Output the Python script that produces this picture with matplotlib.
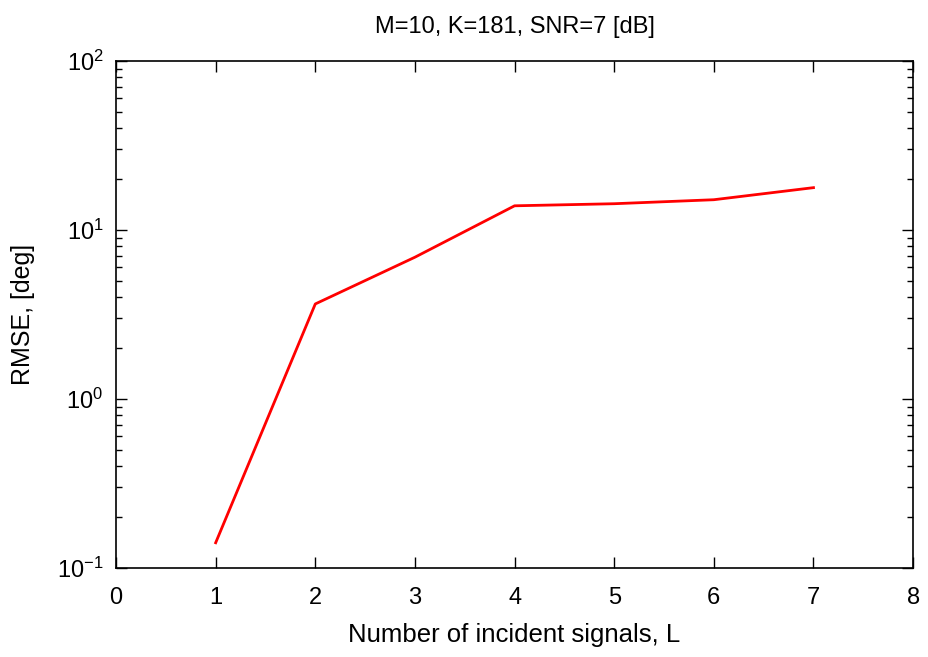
import matplotlib
matplotlib.use("Agg")
import matplotlib.pyplot as plt
from matplotlib.ticker import LogLocator, FixedLocator, FuncFormatter
import numpy as np

plt.rcParams['font.family'] = ['Liberation Sans', 'DejaVu Sans']

# Dados
L = [1, 2, 3, 4, 5, 6, 7]
rmse = [0.141, 3.65, 6.9, 13.9, 14.3, 15.1, 17.8]

fig = plt.figure(figsize=(9.29, 6.57), dpi=100)
ax = fig.add_axes([0.1249, 0.1355, 0.858, 0.7717])

ax.plot(L, rmse, color='red', linewidth=2)

ax.set_yscale('log')
ax.set_xlim(0, 8)
ax.set_ylim(0.1, 100)
ax.xaxis.set_major_locator(FixedLocator(range(0, 9)))
ax.yaxis.set_major_locator(LogLocator(base=10, numticks=10))
ax.yaxis.set_minor_locator(LogLocator(base=10, subs=range(2, 10), numticks=10))
ax.yaxis.set_major_formatter(FuncFormatter(
    lambda v, p: r'$\mathregular{10^{%d}}$' % int(round(np.log10(v)))))

ax.tick_params(which='both', direction='in', top=True, right=True, labelsize=17, width=1)
ax.tick_params(which='major', length=8)
ax.tick_params(axis='x', which='major', pad=14)
ax.tick_params(axis='y', which='major', pad=9)
ax.tick_params(which='minor', length=4)
for s in ax.spines.values():
    s.set_linewidth(1.2)

ax.set_title('M=10, K=181, SNR=7 [dB]', fontsize=17, pad=20)
ax.set_xlabel('Number of incident signals, L', fontsize=18.5, labelpad=10)
ax.set_ylabel('RMSE, [deg]', fontsize=18, labelpad=16)

fig.savefig('out.png', dpi=100)
